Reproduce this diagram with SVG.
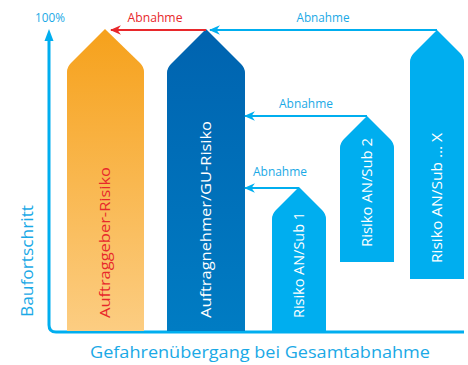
<svg xmlns="http://www.w3.org/2000/svg" width="468" height="365" viewBox="0 0 468 365">
<defs>
<linearGradient id="gOr" x1="0" y1="0" x2="0" y2="1"><stop offset="0" stop-color="#F6A11B"/><stop offset="1" stop-color="#FCCD82"/></linearGradient>
<linearGradient id="gDb" x1="0" y1="0" x2="0" y2="1"><stop offset="0" stop-color="#0063AF"/><stop offset="1" stop-color="#007CC3"/></linearGradient>
<marker id="ahB" viewBox="0 0 10 10" refX="9" refY="5" markerWidth="5" markerHeight="4.4" orient="auto" markerUnits="strokeWidth" preserveAspectRatio="none"><path d="M10,5 L0,0 L3,5 L0,10 Z" fill="#00AEEF"/></marker>
<marker id="ahR" viewBox="0 0 10 10" refX="9" refY="5" markerWidth="5" markerHeight="4.4" orient="auto" markerUnits="strokeWidth" preserveAspectRatio="none"><path d="M10,5 L0,0 L3,5 L0,10 Z" fill="#E8282B"/></marker>
</defs>
<style>
text{font-family:"Open Sans","Liberation Sans",sans-serif}
.lab{font-size:12px;fill:#1AA9E6;text-anchor:middle}
.bar{font-size:15px;fill:#fff}
.red{fill:#E8282B}
.ax{fill:none;stroke:#00AEEF;stroke-width:3}
.con{fill:none;stroke-width:2.2}
</style>
<g id="axes">
<path class="ax" d="M49,40 V325 Q49,332 56,332 H464"/>
<path d="M49,29 L44.5,41 L53.5,41 Z" fill="#00AEEF"/>
<text x="35" y="22" font-size="13" fill="#1AA9E6" textLength="30" lengthAdjust="spacingAndGlyphs">100%</text>
<text transform="translate(33,317) rotate(-90)" font-size="16" fill="#1AA9E6" textLength="112" lengthAdjust="spacingAndGlyphs">Baufortschritt</text>
<text x="90" y="358" font-size="17" fill="#1AA9E6" textLength="340" lengthAdjust="spacingAndGlyphs">Gefahrenübergang bei Gesamtabnahme</text>
</g>
<g id="ag">
<path d="M67,331 V72 Q67,67 71,63 L105,29 L140,63 Q144,67 144,72 V331 Z" fill="url(#gOr)"/>
<text class="bar red" transform="translate(110,318) rotate(-90)" textLength="151" lengthAdjust="spacingAndGlyphs">Auftraggeber-Risiko</text>
</g>
<g id="an">
<path d="M167,331 V73 Q167,68 171,64 L206,29 L241,64 Q245,68 245,73 V331 Z" fill="url(#gDb)"/>
<text class="bar" transform="translate(211,318) rotate(-90)" textLength="197" lengthAdjust="spacingAndGlyphs">Auftragnehmer/GU-Risiko</text>
</g>
<g id="sub1">
<path d="M272,331 V219 Q272,214 276,210 L299,187 L322,210 Q326,214 326,219 V331 Z" fill="#00AEEF"/>
<text class="bar" transform="translate(304,318) rotate(-90)" textLength="106" lengthAdjust="spacingAndGlyphs">Risiko AN/Sub 1</text>
</g>
<g id="sub2">
<path d="M340,262 V148 Q340,143 344,139 L367,116 L390,139 Q394,143 394,148 V262 Z" fill="#00AEEF"/>
<text class="bar" transform="translate(372,247) rotate(-90)" textLength="109" lengthAdjust="spacingAndGlyphs">Risiko AN/Sub 2</text>
</g>
<g id="subx">
<path d="M410,279 V62 Q410,57 414,53 L437,30 L460,53 Q464,57 464,62 V279 Z" fill="#00AEEF"/>
<text class="bar" transform="translate(442,263) rotate(-90)" textLength="130" lengthAdjust="spacingAndGlyphs">Risiko AN/Sub … X</text>
</g>
<g id="connectors">
<line class="con" x1="206" y1="30" x2="111" y2="30" stroke="#E8282B" marker-end="url(#ahR)"/>
<line class="con" x1="437" y1="30" x2="210" y2="30" stroke="#00AEEF" marker-end="url(#ahB)"/>
<line class="con" x1="367" y1="116" x2="245" y2="116" stroke="#00AEEF" marker-end="url(#ahB)"/>
<line class="con" x1="299" y1="188" x2="245" y2="188" stroke="#00AEEF" marker-end="url(#ahB)"/>
<text class="lab red" x="155" y="22" textLength="55" lengthAdjust="spacingAndGlyphs">Abnahme</text>
<text class="lab" x="323" y="22" textLength="53" lengthAdjust="spacingAndGlyphs">Abnahme</text>
<text class="lab" x="306" y="108" textLength="54" lengthAdjust="spacingAndGlyphs">Abnahme</text>
<text class="lab" x="280" y="176" textLength="54" lengthAdjust="spacingAndGlyphs">Abnahme</text>
</g>
</svg>
